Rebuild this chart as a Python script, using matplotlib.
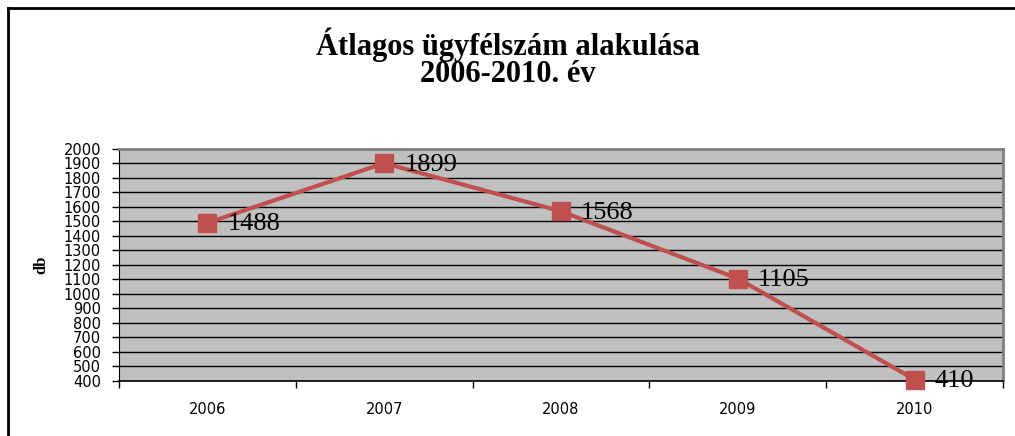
import matplotlib
matplotlib.use("Agg")
import matplotlib.pyplot as plt
from matplotlib.lines import Line2D

years = ["2006", "2007", "2008", "2009", "2010"]
values = [1488, 1899, 1568, 1105, 410]
yticks = list(range(400, 2001, 100))

fig = plt.figure(figsize=(10.15, 4.36), dpi=100)
ax = fig.add_axes([119/1015, 55/436, 884/1015, 232.5/436])
ax.set_facecolor("#C0C0C0")

x = list(range(len(years)))
ax.plot(x, values, color="#C0504D", lw=3, marker="s", ms=12.5, mec="#C0504D", mfc="#C0504D", zorder=3, clip_on=False)
for xi, v in zip(x, values):
    ax.annotate(str(v), (xi, v), xytext=(14.5, -1), textcoords="offset points",
                ha="left", va="center", fontsize=19, family="Liberation Serif", color="black", zorder=4)

ax.set_xlim(-0.5, 4.5)
ax.set_ylim(400, 2000)
ax.set_yticks(yticks)
ax.set_yticklabels([str(t) for t in yticks], fontsize=10.5, family="DejaVu Sans")
ax.yaxis.grid(True, color="black", lw=1)
ax.set_axisbelow(True)
ax.tick_params(axis="y", length=5, width=1, pad=8, colors="black")

ax.set_xticks(x)
ax.set_xticklabels(years, fontsize=10.5, family="DejaVu Sans")
ax.set_xticks([i - 0.5 for i in range(len(years) + 1)], minor=True)
ax.tick_params(axis="x", which="major", length=0, pad=15)
ax.tick_params(axis="x", which="minor", length=5, width=1, color="black")

for s in ["top", "right"]:
    ax.spines[s].set_color("#808080")
    ax.spines[s].set_linewidth(2)
ax.spines["left"].set_color("black")
ax.spines["bottom"].set_color("black")
ax.spines["bottom"].set_linewidth(1.2)

ax.set_ylabel("db", fontsize=12, family="Liberation Serif", fontweight="bold")
ax.yaxis.set_label_coords((49 - 119) / 884, 0.5)

fig.text(0.5, 1 - 45/436, "Átlagos ügyfélszám alakulása", ha="center", va="center",
         fontsize=22, family="Liberation Serif", fontweight="bold")
fig.text(0.5, 1 - 74/436, "2006-2010. év", ha="center", va="center",
         fontsize=22, family="Liberation Serif", fontweight="bold")

fig.add_artist(Line2D([7.5/1015, 1.0], [1 - 8.5/436, 1 - 8.5/436], transform=fig.transFigure, color="black", lw=2))
fig.add_artist(Line2D([7.5/1015, 7.5/1015], [0, 1 - 8.5/436], transform=fig.transFigure, color="black", lw=2))

fig.savefig("out.png", dpi=100)
